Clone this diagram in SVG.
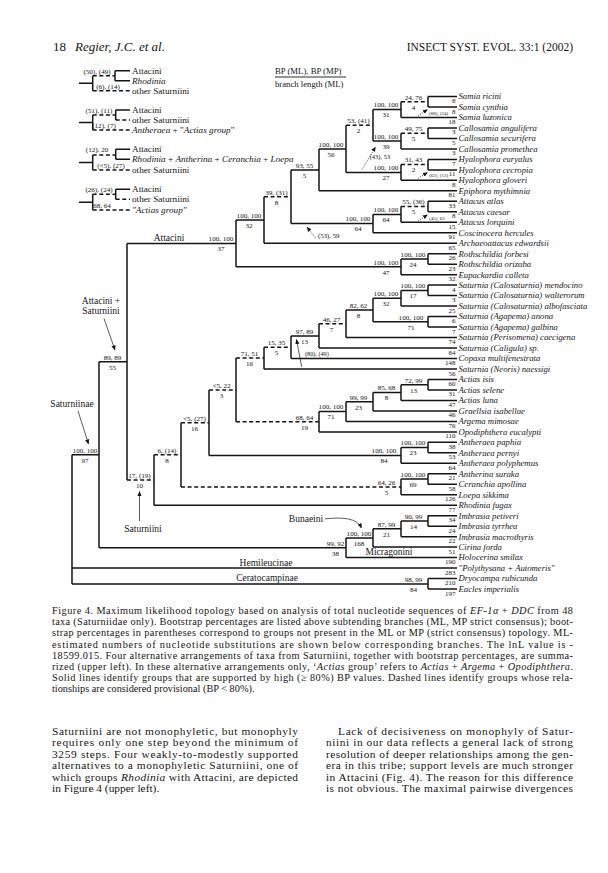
<svg xmlns="http://www.w3.org/2000/svg" width="608" height="873" viewBox="0 0 608 873">
<style>
text{font-family:"Liberation Serif","Times New Roman",serif;fill:#151515}
.s{stroke:#151515;stroke-width:1.5;fill:none}
.d{stroke:#151515;stroke-width:1.5;fill:none;stroke-dasharray:4 2.6}
.t{font-size:8.7px;font-style:italic}
.n{font-size:7px;text-anchor:end}
.b{font-size:7.1px;text-anchor:middle}
.sm{font-size:5px}
.lb{font-size:9.2px}
.lbc{font-size:9.5px;text-anchor:middle}
.cap{font-size:10.3px}
.body{font-size:11.4px}
.i{font-style:italic}
.ar{stroke:#151515;stroke-width:0.7;fill:none}
.dt{stroke:#151515;stroke-width:0.8;fill:none;stroke-dasharray:1 1.4}
</style>
<defs>
<marker id="ah" viewBox="0 0 6 6" refX="5.5" refY="3" markerWidth="5" markerHeight="5" markerUnits="userSpaceOnUse" orient="auto"><path d="M0,0.5 L6,3 L0,5.5 z" fill="#151515"/></marker>
</defs>
<rect width="608" height="873" fill="#fff"/>

<g id="header">
<text x="53" y="51" style="font-size:13px">18</text>
<text x="75" y="51" class="i" style="font-size:13px">Regier, J.C. et al.</text>
<text x="573" y="51" style="font-size:11.5px" text-anchor="end">INSECT SYST. EVOL. 33:1 (2002)</text>
</g>

<g id="legend">
<text x="275" y="74" style="font-size:8.7px">BP (ML), BP (MP)</text>
<path class="s" style="stroke-width:0.9" d="M275,77H346"/>
<text x="275" y="86.5" style="font-size:8.7px">branch length (ML)</text>
</g>

<g id="alt-arrangements">
<path class="s" d="M79,83.3H92.7M92.7,75.7V90.7M115,70.7V80.7M115,70.7H130M115,80.7H130"/>
<path class="d" d="M92.7,75.7H115M92.7,90.7H130"/>
<text class="b" x="97" y="73.5">(50), (49)</text>
<text class="b" x="108" y="88.5">(6), (14)</text>
<text class="lb" x="132" y="73.5">Attacini</text>
<text class="lb i" x="132" y="83.5">Rhodinia</text>
<text class="lb" x="132" y="93.5">other Saturniini</text>

<path class="s" d="M79,122.5H92.7M92.7,115V130M115.7,110V120M115.7,110H130"/>
<path class="d" d="M92.7,115H115.7M115.7,120H130M92.7,130H130"/>
<text class="b" x="99" y="112.5">(51), (11)</text>
<text class="b" x="104" y="127.5">(12), (7)</text>
<text class="lb" x="132" y="112.8">Attacini</text>
<text class="lb" x="132" y="122.8">other Saturniini</text>
<text class="lb" x="132" y="132.8"><tspan class="i">Antheraea</tspan> + "<tspan class="i">Actias group</tspan>"</text>

<path class="s" d="M79,162.5H92.7M92.7,155V170M115.7,149.3V159.3M115.7,149.3H130M115.7,159.3H130"/>
<path class="d" d="M92.7,155H115.7M92.7,170H130"/>
<text class="b" x="97" y="152">(12), 20</text>
<text class="b" x="111" y="167.5">(&lt;5), (27)</text>
<text class="lb" x="132" y="152">Attacini</text>
<text class="lb" x="132" y="162"><tspan class="i">Rhodinia</tspan> + <tspan class="i">Antherina</tspan> + <tspan class="i">Ceranchia</tspan> + <tspan class="i">Loepa</tspan></text>
<text class="lb" x="132" y="172.8">other Saturniini</text>

<path class="s" d="M79,202.2H92.7M92.7,194.3V210M115.7,189.3V199.3M115.7,189.3H130"/>
<path class="d" d="M92.7,194.3H115.7M115.7,199.3H130M92.7,210H130"/>
<text class="b" x="99" y="192">(26), (24)</text>
<text class="b" x="102" y="207.5">68, 64</text>
<text class="lb" x="132" y="192">Attacini</text>
<text class="lb" x="132" y="202">other Saturniini</text>
<text class="lb i" x="132" y="212.8">"Actias group"</text>
</g>

<g id="connectors">
<path class="s" d="M428,96.5V107M401,101.7V117.5M428,127.9V138.4M401,133.2V148.9M373,109.6V141M428,159.4V169.9M401,164.6V180.3M346,125.3V172.5M319,148.9V190.8M428,201.3V211.8M401,206.5V222.3M373,214.4V232.7M291,169.9V223.6M264,196.7V243.2M428,253.7V264.2M401,258.9V274.7M236,220V266.8M428,285.1V295.6M401,290.4V306.1M428,316.6V327.1M373,298.2V321.8M346,310V337.5M319,323.8V348M291,335.9V358.5M264,347.2V369M428,379.5V389.9M401,384.7V400.4M373,392.6V410.9M346,401.7V421.4M319,411.5V431.9M236,358.1V421.7M428,442.3V452.8M401,447.6V463.3M209,389.9V455.4M428,473.8V484.3M401,479V494.7M181,422.7V486.9M154,454.8V505.2M127,243.4V480M428,515.7V526.2M401,521V536.7M373,528.8V547.1M346,538V557.6M99,361.7V547.8M428,578.6V589.1M72,454.8V583.9"/>
<path class="s" d="M373,109.6H401M373,141H401M346,172.5H401M319,148.9H346M291,169.9H319M373,214.4H401M291,223.6H373M236,220H264M401,258.9H428M236,266.8H401M127,243.4H236M401,290.4H428M373,298.2H401M373,321.8H428M346,310H373M291,335.9H319M401,384.7H428M373,392.6H401M346,401.7H373M319,411.5H346M401,447.6H428M209,455.4H401M401,479H428M99,361.7H127M401,521H428M373,528.8H401M346,538H373M99,547.8H346M72,454.8H99M72,583.9H428"/>
<path class="d" d="M401,101.7H428M401,133.2H428M346,125.3H373M401,164.6H428M401,206.5H428M264,196.7H291M319,323.8H346M264,347.2H291M236,358.1H264M236,421.7H319M209,389.9H236M181,422.7H209M181,486.9H401M154,454.8H181M127,480H154"/>
<path class="s" d="M428,96.5H457M428,107H457M401,117.5H457M428,127.9H457M428,138.4H457M401,148.9H457M428,159.4H457M428,169.9H457M401,180.3H457M319,190.8H457M428,201.3H457M428,211.8H457M401,222.3H457M373,232.7H457M264,243.2H457M428,253.7H457M428,264.2H457M401,274.7H457M428,285.1H457M428,295.6H457M401,306.1H457M428,316.6H457M428,327.1H457M346,337.5H457M319,348H457M291,358.5H457M264,369H457M428,379.5H457M428,389.9H457M401,400.4H457M373,410.9H457M346,421.4H457M319,431.9H457M428,442.3H457M428,452.8H457M401,463.3H457M428,473.8H457M428,484.3H457M401,494.7H457M154,505.2H457M428,515.7H457M428,526.2H457M401,536.7H457M373,547.1H457M346,557.6H457M72,568.1H457M428,578.6H457M428,589.1H457"/>
</g>

<g id="tips">
<g id="t0"><text class="t" x="458.5" y="99.3">Samia ricini</text><text class="n" x="455.5" y="103">8</text></g>
<g id="t1"><text class="t" x="458.5" y="109.8">Samia cynthia</text><text class="n" x="455.5" y="113.5">8</text></g>
<g id="t2"><text class="t" x="458.5" y="120.3">Samia luzonica</text><text class="n" x="455.5" y="124">18</text></g>
<g id="t3"><text class="t" x="458.5" y="130.7">Callosamia angulifera</text><text class="n" x="455.5" y="134.4">3</text></g>
<g id="t4"><text class="t" x="458.5" y="141.2">Callosamia securifera</text><text class="n" x="455.5" y="144.9">5</text></g>
<g id="t5"><text class="t" x="458.5" y="151.7">Callosamia promethea</text><text class="n" x="455.5" y="155.4">3</text></g>
<g id="t6"><text class="t" x="458.5" y="162.2">Hyalophora euryalus</text><text class="n" x="455.5" y="165.9">7</text></g>
<g id="t7"><text class="t" x="458.5" y="172.7">Hyalophora cecropia</text><text class="n" x="455.5" y="176.4">11</text></g>
<g id="t8"><text class="t" x="458.5" y="183.1">Hyalophora gloveri</text><text class="n" x="455.5" y="186.8">8</text></g>
<g id="t9"><text class="t" x="458.5" y="193.6">Epiphora mythimnia</text><text class="n" x="455.5" y="197.3">81</text></g>
<g id="t10"><text class="t" x="458.5" y="204.1">Attacus atlas</text><text class="n" x="455.5" y="207.8">33</text></g>
<g id="t11"><text class="t" x="458.5" y="214.6">Attacus caesar</text><text class="n" x="455.5" y="218.3">8</text></g>
<g id="t12"><text class="t" x="458.5" y="225.1">Attacus lorquini</text><text class="n" x="455.5" y="228.8">15</text></g>
<g id="t13"><text class="t" x="458.5" y="235.5">Coscinocera hercules</text><text class="n" x="455.5" y="239.2">91</text></g>
<g id="t14"><text class="t" x="458.5" y="246">Archaeoattacus edwardsii</text><text class="n" x="455.5" y="249.7">65</text></g>
<g id="t15"><text class="t" x="458.5" y="256.5">Rothschildia forbesi</text><text class="n" x="455.5" y="260.2">26</text></g>
<g id="t16"><text class="t" x="458.5" y="267">Rothschildia orizaba</text><text class="n" x="455.5" y="270.7">23</text></g>
<g id="t17"><text class="t" x="458.5" y="277.5">Eupackardia calleta</text><text class="n" x="455.5" y="281.2">32</text></g>
<g id="t18"><text class="t" x="458.5" y="287.9">Saturnia (Calosaturnia) mendocino</text><text class="n" x="455.5" y="291.6">4</text></g>
<g id="t19"><text class="t" x="458.5" y="298.4">Saturnia (Calosaturnia) walterorum</text><text class="n" x="455.5" y="302.1">3</text></g>
<g id="t20"><text class="t" x="458.5" y="308.9">Saturnia (Calosaturnia) albofasciata</text><text class="n" x="455.5" y="312.6">25</text></g>
<g id="t21"><text class="t" x="458.5" y="319.4">Saturnia (Agapema) anona</text><text class="n" x="455.5" y="323.1">6</text></g>
<g id="t22"><text class="t" x="458.5" y="329.9">Saturnia (Agapema) galbina</text><text class="n" x="455.5" y="333.6">7</text></g>
<g id="t23"><text class="t" x="458.5" y="340.3">Saturnia (Perisomena) caecigena</text><text class="n" x="455.5" y="344">74</text></g>
<g id="t24"><text class="t" x="458.5" y="350.8">Saturnia (Caligula) sp.</text><text class="n" x="455.5" y="354.5">84</text></g>
<g id="t25"><text class="t" x="458.5" y="361.3">Copaxa multifenestrata</text><text class="n" x="455.5" y="365">148</text></g>
<g id="t26"><text class="t" x="458.5" y="371.8">Saturnia (Neoris) naessigi</text><text class="n" x="455.5" y="375.5">56</text></g>
<g id="t27"><text class="t" x="458.5" y="382.3">Actias isis</text><text class="n" x="455.5" y="386">60</text></g>
<g id="t28"><text class="t" x="458.5" y="392.7">Actias selene</text><text class="n" x="455.5" y="396.4">31</text></g>
<g id="t29"><text class="t" x="458.5" y="403.2">Actias luna</text><text class="n" x="455.5" y="406.9">47</text></g>
<g id="t30"><text class="t" x="458.5" y="413.7">Graellsia isabellae</text><text class="n" x="455.5" y="417.4">46</text></g>
<g id="t31"><text class="t" x="458.5" y="424.2">Argema mimosae</text><text class="n" x="455.5" y="427.9">76</text></g>
<g id="t32"><text class="t" x="458.5" y="434.7">Opodiphthera eucalypti</text><text class="n" x="455.5" y="438.4">110</text></g>
<g id="t33"><text class="t" x="458.5" y="445.1">Antheraea paphia</text><text class="n" x="455.5" y="448.8">38</text></g>
<g id="t34"><text class="t" x="458.5" y="455.6">Antheraea pernyi</text><text class="n" x="455.5" y="459.3">53</text></g>
<g id="t35"><text class="t" x="458.5" y="466.1">Antheraea polyphemus</text><text class="n" x="455.5" y="469.8">64</text></g>
<g id="t36"><text class="t" x="458.5" y="476.6">Antherina suraka</text><text class="n" x="455.5" y="480.3">21</text></g>
<g id="t37"><text class="t" x="458.5" y="487.1">Ceranchia apollina</text><text class="n" x="455.5" y="490.8">58</text></g>
<g id="t38"><text class="t" x="458.5" y="497.5">Loepa sikkima</text><text class="n" x="455.5" y="501.2">126</text></g>
<g id="t39"><text class="t" x="458.5" y="508">Rhodinia fugax</text><text class="n" x="455.5" y="511.7">77</text></g>
<g id="t40"><text class="t" x="458.5" y="518.5">Imbrasia petiveri</text><text class="n" x="455.5" y="522.2">34</text></g>
<g id="t41"><text class="t" x="458.5" y="529">Imbrasia tyrrhea</text><text class="n" x="455.5" y="532.7">24</text></g>
<g id="t42"><text class="t" x="458.5" y="539.5">Imbrasia macrothyris</text><text class="n" x="455.5" y="543.2">22</text></g>
<g id="t43"><text class="t" x="458.5" y="549.9">Cirina forda</text><text class="n" x="455.5" y="553.6">51</text></g>
<g id="t44"><text class="t" x="458.5" y="560.4">Holocerina smilax</text><text class="n" x="455.5" y="564.1">190</text></g>
<g id="t45"><text class="t" x="458.5" y="570.9">"Polythysana + Automeris"</text><text class="n" x="455.5" y="574.6">283</text></g>
<g id="t46"><text class="t" x="458.5" y="581.4">Dryocampa rubicunda</text><text class="n" x="455.5" y="585.1">210</text></g>
<g id="t47"><text class="t" x="458.5" y="591.9">Eacles imperialis</text><text class="n" x="455.5" y="595.6">197</text></g>
</g>

<g id="support">
<g id="nA1"><text class="b" x="413.5" y="99.5">24, 76</text><text class="b" x="413.5" y="109.5">4</text></g>
<g id="nA2"><text class="b" x="386" y="107.4">100, 100</text><text class="b" x="386" y="117.4">31</text></g>
<g id="nA3"><text class="b" x="413.5" y="131">49, 75</text><text class="b" x="413.5" y="141">5</text></g>
<g id="nA3b"><text class="b" x="386" y="138.8">100, 100</text><text class="b" x="386" y="148.8">39</text></g>
<g id="nA4"><text class="b" x="358.5" y="123.1">53, (41)</text><text class="b" x="358.5" y="133.1">2</text></g>
<g id="nA5"><text class="b" x="413.5" y="162.4">31, 43</text><text class="b" x="413.5" y="172.4">2</text></g>
<g id="nA5b"><text class="b" x="386" y="170.3">100, 100</text><text class="b" x="386" y="180.3">27</text></g>
<g id="nA6"><text class="b" x="331" y="146.7">100, 100</text><text class="b" x="331" y="156.7">56</text></g>
<g id="nA7"><text class="b" x="304.5" y="167.7">93, 55</text><text class="b" x="304.5" y="177.7">5</text></g>
<g id="nA9"><text class="b" x="413.5" y="204.3">55, (36)</text><text class="b" x="413.5" y="214.3">5</text></g>
<g id="nA10"><text class="b" x="386" y="212.2">100, 100</text><text class="b" x="386" y="222.2">64</text></g>
<g id="nA11"><text class="b" x="358" y="221.4">100, 100</text><text class="b" x="358" y="231.4">64</text></g>
<g id="nA8"><text class="b" x="276.5" y="194.5">39, (31)</text><text class="b" x="276.5" y="204.5">8</text></g>
<g id="nA12"><text class="b" x="249" y="217.8">100, 100</text><text class="b" x="249" y="227.8">32</text></g>
<g id="nA14"><text class="b" x="413" y="256.7">100, 100</text><text class="b" x="413" y="266.7">24</text></g>
<g id="nA15"><text class="b" x="386" y="264.6">100, 100</text><text class="b" x="386" y="274.6">47</text></g>
<g id="nA13"><text class="b" x="221" y="241.2">100, 100</text><text class="b" x="221" y="251.2">37</text><text class="lbc" x="169" y="241.2">Attacini</text></g>
<g id="nS1"><text class="b" x="413" y="288.2">100, 100</text><text class="b" x="413" y="298.2">17</text></g>
<g id="nS2"><text class="b" x="386" y="296">100, 100</text><text class="b" x="386" y="306">32</text></g>
<g id="nS3"><text class="b" x="411" y="319.6">100, 100</text><text class="b" x="411" y="329.6">71</text></g>
<g id="nS4"><text class="b" x="358.5" y="307.8">82, 62</text><text class="b" x="358.5" y="317.8">8</text></g>
<g id="nS5"><text class="b" x="331.5" y="321.6">46, 27</text><text class="b" x="331.5" y="331.6">7</text></g>
<g id="nS6"><text class="b" x="304.5" y="333.7">97, 89</text><text class="b" x="304.5" y="343.7">13</text></g>
<g id="nS7"><text class="b" x="276.5" y="345">15, 35</text><text class="b" x="276.5" y="355">5</text></g>
<g id="nS8"><text class="b" x="249.5" y="355.9">71, 51</text><text class="b" x="249.5" y="365.9">16</text></g>
<g id="nS10"><text class="b" x="413.5" y="382.5">72, 99</text><text class="b" x="413.5" y="392.5">13</text></g>
<g id="nS11"><text class="b" x="386.5" y="390.4">85, 68</text><text class="b" x="386.5" y="400.4">8</text></g>
<g id="nS12"><text class="b" x="358.5" y="399.5">99, 99</text><text class="b" x="358.5" y="409.5">23</text></g>
<g id="nS13"><text class="b" x="331" y="409.3">100, 100</text><text class="b" x="331" y="419.3">71</text></g>
<g id="nS14"><text class="b" x="304.5" y="419.5">68, 64</text><text class="b" x="304.5" y="429.5">19</text></g>
<g id="nS9"><text class="b" x="221.5" y="387.7">&lt;5, 22</text><text class="b" x="221.5" y="397.7">3</text></g>
<g id="nS16"><text class="b" x="413" y="445.4">100, 100</text><text class="b" x="413" y="455.4">23</text></g>
<g id="nS17"><text class="b" x="384" y="453.2">100, 100</text><text class="b" x="384" y="463.2">84</text></g>
<g id="nS15"><text class="b" x="194.5" y="420.5">&lt;5, (27)</text><text class="b" x="194.5" y="430.5">16</text></g>
<g id="nS19"><text class="b" x="413" y="476.8">100, 100</text><text class="b" x="413" y="486.8">69</text></g>
<g id="nS20"><text class="b" x="386.5" y="484.7">64, 26</text><text class="b" x="386.5" y="494.7">5</text></g>
<g id="nS18"><text class="b" x="167" y="452.6">6, (14)</text><text class="b" x="167" y="462.6">8</text></g>
<g id="nS21"><text class="b" x="139.5" y="477.8">17, (19)</text><text class="b" x="139.5" y="487.8">10</text></g>
<g id="nR2"><text class="b" x="112.5" y="359.5">89, 89</text><text class="b" x="112.5" y="369.5">55</text></g>
<g id="nB1"><text class="b" x="413.5" y="518.8">90, 99</text><text class="b" x="413.5" y="528.8">14</text></g>
<g id="nB2"><text class="b" x="386.5" y="526.6">87, 99</text><text class="b" x="386.5" y="536.6">21</text></g>
<g id="nB3"><text class="b" x="359" y="535.8">100, 100</text><text class="b" x="359" y="545.8">168</text></g>
<g id="nB4"><text class="b" x="335.5" y="545.6">99, 92</text><text class="b" x="335.5" y="555.6">38</text><text class="lbc" x="389" y="555">Micragonini</text></g>
<g id="nR1"><text class="b" x="85" y="452.6">100, 100</text><text class="b" x="85" y="462.6">97</text></g>
<g id="nC1"><text class="b" x="413.5" y="581.7">98, 99</text><text class="b" x="413.5" y="591.7">84</text></g>
<g id="hemi"><text class="lbc" x="266" y="565.5">Hemileucinae</text></g>
<g id="cerato"><text class="lbc" x="267" y="581">Ceratocampinae</text></g>
</g>

<g id="annotations">
<path class="dt" marker-end="url(#ah)" d="M418,116L427.5,109.5"/>
<text class="sm" x="429" y="114.8">(88), (24)</text>
<path class="dt" marker-end="url(#ah)" d="M418,178.5L427.5,172.5"/>
<text class="sm" x="429" y="177.3">(62), (13)</text>
<path class="dt" marker-end="url(#ah)" d="M418,221L427.5,214.8"/>
<text class="sm" x="429" y="219.5">(45), 62</text>
<path class="dt" marker-end="url(#ah)" d="M362,169.5L375.5,147"/>
<text class="b" x="380" y="159" style="font-size:6.5px">(43), 53</text>
<path class="dt" marker-end="url(#ah)" d="M315.5,238L307,227"/>
<text x="318" y="237.5" style="font-size:6.8px">(53), 59</text>
<path class="ar" marker-end="url(#ah)" d="M301.7,367L296.5,339.5"/>
<text x="305" y="355.8" style="font-size:6.2px">(80), (49)</text>
<g id="bunaeini"><text class="lbc" x="306" y="522">Bunaeini</text>
<path class="ar" marker-end="url(#ah)" d="M325,518.8C343,517 357,518 361.5,528"/></g>
<g id="saturniini-lbl"><text class="lbc" x="143" y="531.5">Saturniini</text>
<path class="ar" marker-end="url(#ah)" d="M139.5,521V491.5"/></g>
<g id="saturniinae-lbl"><text class="lbc" x="72" y="407">Saturniinae</text>
<path class="ar" marker-end="url(#ah)" d="M78,411L88.5,444"/></g>
<g id="att-sat-lbl"><text class="lbc" x="101" y="303.5">Attacini +</text><text class="lbc" x="101" y="314">Saturniini</text>
<path class="ar" marker-end="url(#ah)" d="M104,318.5L115,350"/></g>
</g>

<g id="caption" class="cap">
<text x="52" y="614" textLength="521" lengthAdjust="spacing">Figure 4. Maximum likelihood topology based on analysis of total nucleotide sequences of <tspan class="i">EF-1α</tspan> + <tspan class="i">DDC</tspan> from 48</text>
<text x="52" y="625.2" textLength="521" lengthAdjust="spacing">taxa (Saturniidae only). Bootstrap percentages are listed above subtending branches (ML, MP strict consensus); boot-</text>
<text x="52" y="636.4" textLength="521" lengthAdjust="spacing">strap percentages in parentheses correspond to groups not present in the ML or MP (strict consensus) topology. ML-</text>
<text x="52" y="647.6" textLength="521" lengthAdjust="spacing">estimated numbers of nucleotide substitutions are shown below corresponding branches. The lnL value is -</text>
<text x="52" y="658.8" textLength="521" lengthAdjust="spacing">18599.015. Four alternative arrangements of taxa from Saturniini, together with bootstrap percentages, are summa-</text>
<text x="52" y="670" textLength="521" lengthAdjust="spacing">rized (upper left). In these alternative arrangements only, ‘<tspan class="i">Actias</tspan> group’ refers to <tspan class="i">Actias</tspan> + <tspan class="i">Argema</tspan> + <tspan class="i">Opodiphthera</tspan>.</text>
<text x="52" y="681.2" textLength="521" lengthAdjust="spacing">Solid lines identify groups that are supported by high (≥ 80%) BP values. Dashed lines identify groups whose rela-</text>
<text x="52" y="692.4">tionships are considered provisional (BP &lt; 80%).</text>
</g>

<g id="body" class="body">
<text x="52" y="735" textLength="246" lengthAdjust="spacing">Saturniini are not monophyletic, but monophyly</text>
<text x="52" y="746.4" textLength="246" lengthAdjust="spacing">requires only one step beyond the minimum of</text>
<text x="52" y="757.8" textLength="246" lengthAdjust="spacing">3259 steps. Four weakly-to-modestly supported</text>
<text x="52" y="769.2" textLength="246" lengthAdjust="spacing">alternatives to a monophyletic Saturniini, one of</text>
<text x="52" y="780.6" textLength="246" lengthAdjust="spacing">which groups <tspan class="i">Rhodinia</tspan> with Attacini, are depicted</text>
<text x="52" y="792">in Figure 4 (upper left).</text>
<text x="338" y="735" textLength="235" lengthAdjust="spacing">Lack of decisiveness on monophyly of Satur-</text>
<text x="326" y="746.4" textLength="247" lengthAdjust="spacing">niini in our data reflects a general lack of strong</text>
<text x="326" y="757.8" textLength="247" lengthAdjust="spacing">resolution of deeper relationships among the gen-</text>
<text x="326" y="769.2" textLength="247" lengthAdjust="spacing">era in this tribe; support levels are much stronger</text>
<text x="326" y="780.6" textLength="247" lengthAdjust="spacing">in Attacini (Fig. 4). The reason for this difference</text>
<text x="326" y="792" textLength="247" lengthAdjust="spacing">is not obvious. The maximal pairwise divergences</text>
</g>
</svg>
